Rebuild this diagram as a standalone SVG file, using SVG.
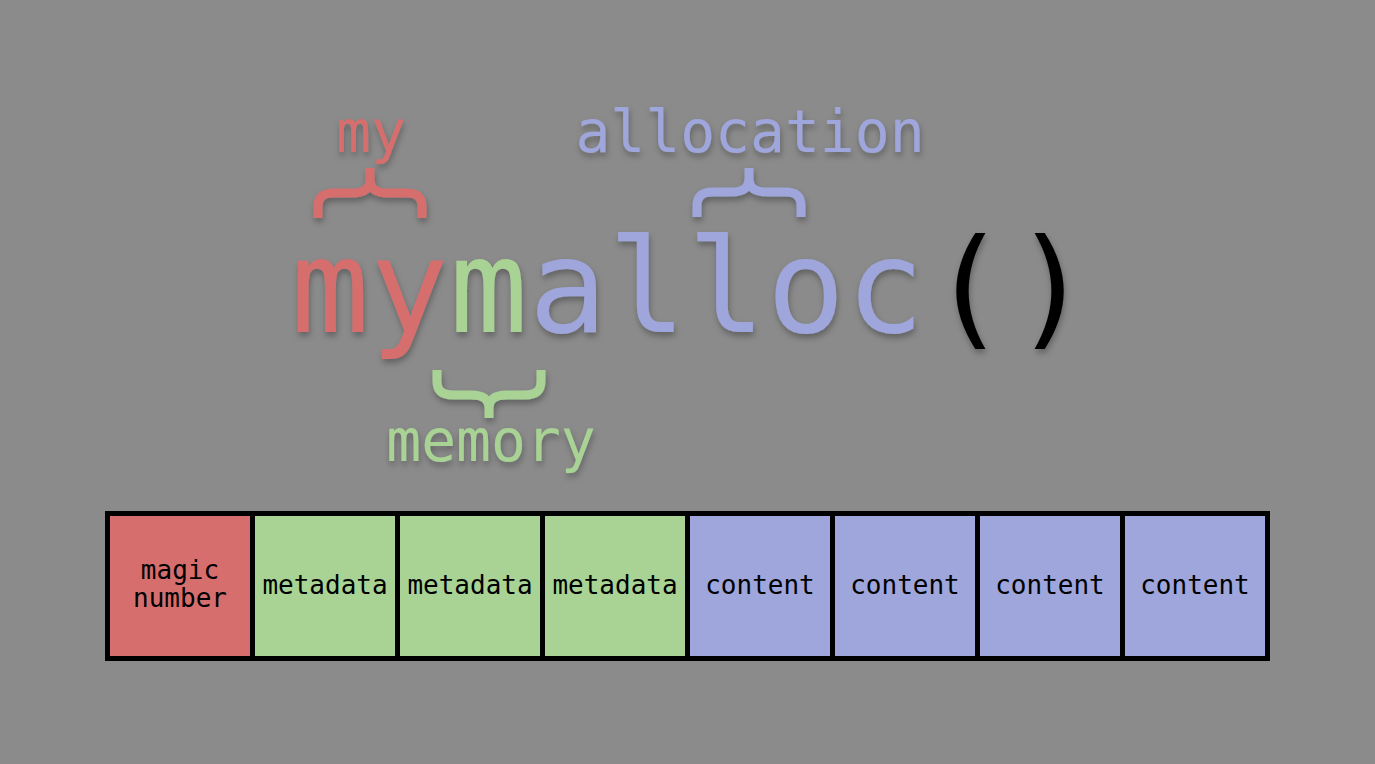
<svg xmlns="http://www.w3.org/2000/svg" width="1375" height="764" viewBox="0 0 1375 764">
<defs>
<filter id="sh" x="-20%" y="-20%" width="140%" height="160%">
<feDropShadow dx="1" dy="4" stdDeviation="3" flood-color="#000" flood-opacity="0.3"/>
</filter>
<style>
.mono{font-family:"DejaVu Sans Mono","Liberation Mono",monospace;}
.red{fill:#d76e6e;}
.green{fill:#a8d394;}
.blue{fill:#9ea6dc;}
.brace{fill:none;stroke-width:9;stroke-linecap:butt;stroke-linejoin:round;}
.cell{stroke:#000;stroke-width:5;}
.ctext{font-family:"DejaVu Sans Mono","Liberation Mono",monospace;font-size:26px;fill:#000;text-anchor:middle;}
</style>
</defs>
<rect width="1375" height="764" fill="#8b8b8b"/>
<g id="title" filter="url(#sh)">
<text class="mono" x="291" y="332" font-size="130" letter-spacing="1"><tspan class="red">my</tspan><tspan class="green">m</tspan><tspan class="blue">alloc</tspan><tspan fill="#000" dx="4">(</tspan><tspan fill="#000" dx="4">)</tspan></text>
</g>
<g id="label-my" filter="url(#sh)">
<text class="mono red" x="371" y="152" font-size="58" text-anchor="middle">my</text>
<path class="brace" stroke="#d76e6e" d="M318 218 V207 C318 198 322 193 334 193 H352 C364 193 370 189 370 179 V168 M370 179 C370 189 376 193 388 193 H406 C418 193 422 198 422 207 V218"/>
</g>
<g id="label-allocation" filter="url(#sh)">
<text class="mono blue" x="750" y="152" font-size="58" text-anchor="middle">allocation</text>
<path class="brace" stroke="#9ea6dc" d="M697 217 V206 C697 197 701 192 713 192 H731 C743 192 749 188 749 178 V168 M749 178 C749 188 755 192 767 192 H785 C797 192 801 197 801 206 V217"/>
</g>
<g id="label-memory" filter="url(#sh)">
<text class="mono green" x="491" y="461" font-size="58" text-anchor="middle">memory</text>
<path class="brace" stroke="#a8d394" d="M437 370 V381 C437 390 441 395 453 395 H471 C483 395 489 399 489 409 V418 M489 409 C489 399 495 395 507 395 H525 C537 395 541 390 541 381 V370"/>
</g>
<g id="memory-block">
<g id="cell-0"><rect class="cell" x="107.5" y="513.5" width="145" height="145" fill="#d76e6e"/><text class="ctext" x="180" y="579">magic<tspan x="180" dy="28">number</tspan></text></g>
<g id="cell-1"><rect class="cell" x="252.5" y="513.5" width="145" height="145" fill="#a8d394"/><text class="ctext" x="325" y="594">metadata</text></g>
<g id="cell-2"><rect class="cell" x="397.5" y="513.5" width="145" height="145" fill="#a8d394"/><text class="ctext" x="470" y="594">metadata</text></g>
<g id="cell-3"><rect class="cell" x="542.5" y="513.5" width="145" height="145" fill="#a8d394"/><text class="ctext" x="615" y="594">metadata</text></g>
<g id="cell-4"><rect class="cell" x="687.5" y="513.5" width="145" height="145" fill="#9ea6dc"/><text class="ctext" x="760" y="594">content</text></g>
<g id="cell-5"><rect class="cell" x="832.5" y="513.5" width="145" height="145" fill="#9ea6dc"/><text class="ctext" x="905" y="594">content</text></g>
<g id="cell-6"><rect class="cell" x="977.5" y="513.5" width="145" height="145" fill="#9ea6dc"/><text class="ctext" x="1050" y="594">content</text></g>
<g id="cell-7"><rect class="cell" x="1122.5" y="513.5" width="145" height="145" fill="#9ea6dc"/><text class="ctext" x="1195" y="594">content</text></g>
</g>
<g id="connectors"></g>
</svg>
